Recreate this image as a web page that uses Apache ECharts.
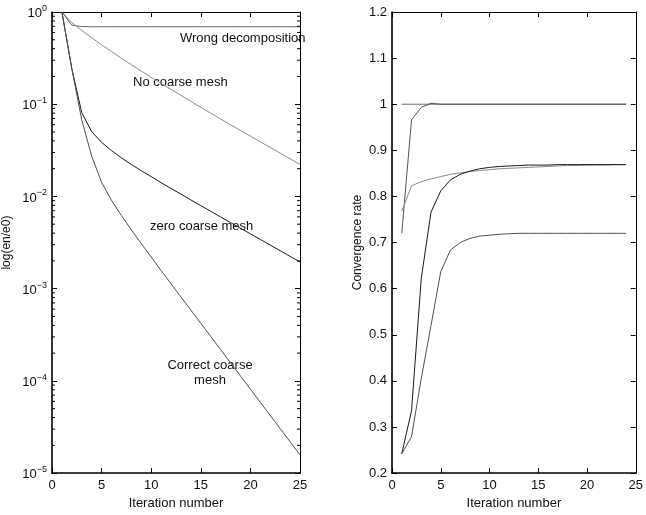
<!DOCTYPE html>
<html>
<head>
<meta charset="utf-8">
<script src="https://cdn.jsdelivr.net/npm/echarts@6/dist/echarts.min.js"></script>
<style>
  html, body { margin: 0; padding: 0; background: #fff; }
  #chart { width: 646px; height: 515px; }
</style>
</head>
<body>
<div id="chart"></div>
<script>
// Iteration indices
const iterError = [1, 2, 3, 4, 5, 6, 7, 8, 9, 10, 11, 12, 13, 14, 15, 16, 17, 18, 19, 20, 21, 22, 23, 24, 25];
const iterRate = [1, 2, 3, 4, 5, 6, 7, 8, 9, 10, 11, 12, 13, 14, 15, 16, 17, 18, 19, 20, 21, 22, 23, 24];

// Relative error en/e0 per iteration
const errWrong = [1, 0.72, 0.696, 0.691, 0.692, 0.692, 0.692, 0.692, 0.692, 0.692, 0.692, 0.692, 0.692,
  0.692, 0.692, 0.692, 0.692, 0.692, 0.692, 0.692, 0.692, 0.692, 0.692, 0.692, 0.692];
const errNoCoarse = [1, 0.768, 0.632, 0.526, 0.441, 0.372, 0.315, 0.268, 0.229, 0.196, 0.168, 0.145, 0.125,
  0.107, 0.0926, 0.0800, 0.0692, 0.0599, 0.0520, 0.0451, 0.0391, 0.0340, 0.0295, 0.0256, 0.0223];
const errZeroCoarse = [1, 0.242, 0.0811, 0.0504, 0.0386, 0.0314, 0.0262, 0.0222, 0.0190, 0.0164, 0.0141, 0.0122, 0.0106,
  0.00916, 0.00795, 0.00690, 0.00599, 0.00521, 0.00453, 0.00393, 0.00342, 0.00297, 0.00258, 0.00224, 0.00195];
const errCorrect = [1, 0.242, 0.0675, 0.0274, 0.0142, 0.00906, 0.00620, 0.00434, 0.00308, 0.00220, 0.00157, 0.00113, 0.000812,
  0.000584, 0.000421, 0.000303, 0.000218, 0.000157, 0.000113, 0.0000814, 0.0000586, 0.0000422, 0.0000304, 0.0000219, 0.0000158];

// Convergence rate per iteration
const rateUnit = [1, 1, 1, 1, 1, 1, 1, 1, 1, 1, 1, 1, 1, 1, 1, 1, 1, 1, 1, 1, 1, 1, 1, 1];
const rateWrong = [0.72, 0.966, 0.993, 1.002, 1, 1, 1, 1, 1, 1, 1, 1, 1, 1, 1, 1, 1, 1, 1, 1, 1, 1, 1, 1];
const rateNoCoarse = [0.768, 0.823, 0.832, 0.838, 0.843, 0.848, 0.851, 0.854, 0.856, 0.858, 0.86, 0.861,
  0.862, 0.863, 0.864, 0.865, 0.866, 0.867, 0.867, 0.868, 0.868, 0.868, 0.869, 0.869];
const rateZeroCoarse = [0.242, 0.335, 0.622, 0.766, 0.812, 0.836, 0.848, 0.855, 0.86, 0.863, 0.865, 0.866,
  0.867, 0.868, 0.868, 0.868, 0.869, 0.869, 0.869, 0.869, 0.869, 0.869, 0.869, 0.869];
const rateCorrect = [0.242, 0.279, 0.405, 0.52, 0.637, 0.684, 0.700, 0.709, 0.714, 0.716, 0.718, 0.719,
  0.72, 0.72, 0.72, 0.72, 0.72, 0.72, 0.72, 0.72, 0.72, 0.72, 0.72, 0.72];

// Minor tick values for the log axis (2..9 in every decade)
const logMinorTicks = [];
[1e-5, 1e-4, 1e-3, 1e-2, 1e-1].forEach(d => {
  for (let k = 2; k <= 9; k++) logMinorTicks.push(k * d);
});

const FONT = '"Liberation Sans", Arial, sans-serif';
const TXT = '#111';

function pairs(xs, ys) { return xs.map((x, i) => [x, ys[i]]); }

function boxAxis(common, extra) {
  return Object.assign({
    axisLine: { show: true, onZero: false, lineStyle: { color: '#000', width: 1 } },
    axisTick: { show: true, inside: true, length: 5, lineStyle: { color: '#000' } },
    splitLine: { show: false },
    axisLabel: { show: false }
  }, common, extra);
}

const labelStyle = { color: TXT, fontFamily: FONT, fontSize: 13 };

const xCommon = { type: 'value', min: 0, max: 25, interval: 5 };
const yLogCommon = { type: 'log', logBase: 10, min: 1e-5, max: 1 };
const yRateCommon = { type: 'value', min: 0.2, max: 1.2, interval: 0.1 };

const supNames = { '0': '0', '-1': '−1', '-2': '−2', '-3': '−3', '-4': '−4', '-5': '−5' };

const line = (name, xi, yi, data, color, width) => ({
  name, type: 'line', xAxisIndex: xi, yAxisIndex: yi, data,
  showSymbol: false, symbol: 'none', animation: false,
  lineStyle: { color, width: width || 1 }, z: 3
});

const chart = echarts.init(document.getElementById('chart'), null, { renderer: 'canvas' });

chart.setOption({
  animation: false,
  backgroundColor: '#fff',
  grid: [
    { left: 52, top: 12, width: 248, height: 463 },
    { left: 392, top: 12, width: 248, height: 463 }
  ],
  xAxis: [
    boxAxis(xCommon, {
      gridIndex: 0, position: 'bottom',
      axisLine: { show: true, onZero: false, lineStyle: { color: '#000', width: 1.6 } },
      axisLabel: Object.assign({ show: true, margin: 6 }, labelStyle),
      name: 'Iteration number', nameLocation: 'middle', nameGap: 23,
      nameTextStyle: labelStyle
    }),
    boxAxis(xCommon, { gridIndex: 0, position: 'top' }),
    boxAxis(xCommon, {
      gridIndex: 1, position: 'bottom',
      axisLine: { show: true, onZero: false, lineStyle: { color: '#000', width: 1.6 } },
      axisLabel: Object.assign({ show: true, margin: 6 }, labelStyle),
      name: 'Iteration number', nameLocation: 'middle', nameGap: 23,
      nameTextStyle: labelStyle
    }),
    boxAxis(xCommon, { gridIndex: 1, position: 'top' })
  ],
  yAxis: [
    boxAxis(yLogCommon, {
      gridIndex: 0, position: 'left',
      axisLine: { show: true, onZero: false, lineStyle: { color: '#000', width: 1.6 } },
      axisLabel: Object.assign({
        show: true, margin: 5,
        formatter: v => {
          const e = Math.round(Math.log10(v));
          return '{b|10}{s|' + (supNames[String(e)] || String(e)) + '}';
        },
        rich: {
          b: { fontFamily: FONT, fontSize: 13, color: TXT, verticalAlign: 'bottom', lineHeight: 16 },
          s: { fontFamily: FONT, fontSize: 9, color: TXT, verticalAlign: 'top', lineHeight: 16, padding: [0, 0, 8, 0] }
        }
      }, labelStyle),
      name: 'log(en/e0)', nameLocation: 'middle', nameGap: 39, nameRotate: 90,
      nameTextStyle: { color: TXT, fontFamily: FONT, fontSize: 12 }
    }),
    boxAxis(yLogCommon, { gridIndex: 0, position: 'right' }),
    boxAxis(yRateCommon, {
      gridIndex: 1, position: 'left',
      axisLine: { show: true, onZero: false, lineStyle: { color: '#000', width: 1.6 } },
      axisLabel: Object.assign({
        show: true, margin: 5,
        formatter: v => String(+v.toFixed(1))
      }, labelStyle),
      name: 'Convergence rate', nameLocation: 'middle', nameGap: 28, nameRotate: 90,
      nameTextStyle: { color: TXT, fontFamily: FONT, fontSize: 12 }
    }),
    boxAxis(yRateCommon, { gridIndex: 1, position: 'right' })
  ],
  series: [
    line('Wrong decomposition', 0, 0, pairs(iterError, errWrong), '#666'),
    line('No coarse mesh', 0, 0, pairs(iterError, errNoCoarse), '#8c8c8c'),
    line('zero coarse mesh', 0, 0, pairs(iterError, errZeroCoarse), '#1a1a1a'),
    line('Correct coarse mesh', 0, 0, pairs(iterError, errCorrect), '#505050'),

    line('Unit rate', 2, 2, pairs(iterRate, rateUnit), '#707070'),
    line('Wrong decomposition rate', 2, 2, pairs(iterRate, rateWrong), '#555'),
    line('No coarse mesh rate', 2, 2, pairs(iterRate, rateNoCoarse), '#8c8c8c'),
    line('zero coarse mesh rate', 2, 2, pairs(iterRate, rateZeroCoarse), '#1a1a1a'),
    line('Correct coarse mesh rate', 2, 2, pairs(iterRate, rateCorrect), '#505050'),

    // Minor log ticks on both vertical sides of the left panel
    {
      type: 'custom', xAxisIndex: 0, yAxisIndex: 0, silent: true, animation: false, z: 4,
      data: logMinorTicks.map(v => [0, v]),
      renderItem: (params, api) => {
        const v = api.value(1);
        const pL = api.coord([0, v]);
        const pR = api.coord([25, v]);
        const style = { stroke: '#000', lineWidth: 1 };
        return {
          type: 'group',
          children: [
            { type: 'line', shape: { x1: pL[0], y1: pL[1], x2: pL[0] + 3, y2: pL[1] }, style },
            { type: 'line', shape: { x1: pR[0], y1: pR[1], x2: pR[0] - 3, y2: pR[1] }, style }
          ]
        };
      }
    }
  ],
  graphic: [
    { type: 'text', left: 180, top: 32, style: { text: 'Wrong decomposition', fill: TXT, font: '13px ' + FONT } },
    { type: 'text', left: 133, top: 76, style: { text: 'No coarse mesh', fill: TXT, font: '13px ' + FONT } },
    { type: 'text', left: 150, top: 220, style: { text: 'zero coarse mesh', fill: TXT, font: '13px ' + FONT } },
    { type: 'text', x: 210, y: 365, style: { text: 'Correct coarse', fill: TXT, font: '13px ' + FONT, textAlign: 'center', textVerticalAlign: 'middle' } },
    { type: 'text', x: 210, y: 380, style: { text: 'mesh', fill: TXT, font: '13px ' + FONT, textAlign: 'center', textVerticalAlign: 'middle' } }
  ]
});
</script>
</body>
</html>
